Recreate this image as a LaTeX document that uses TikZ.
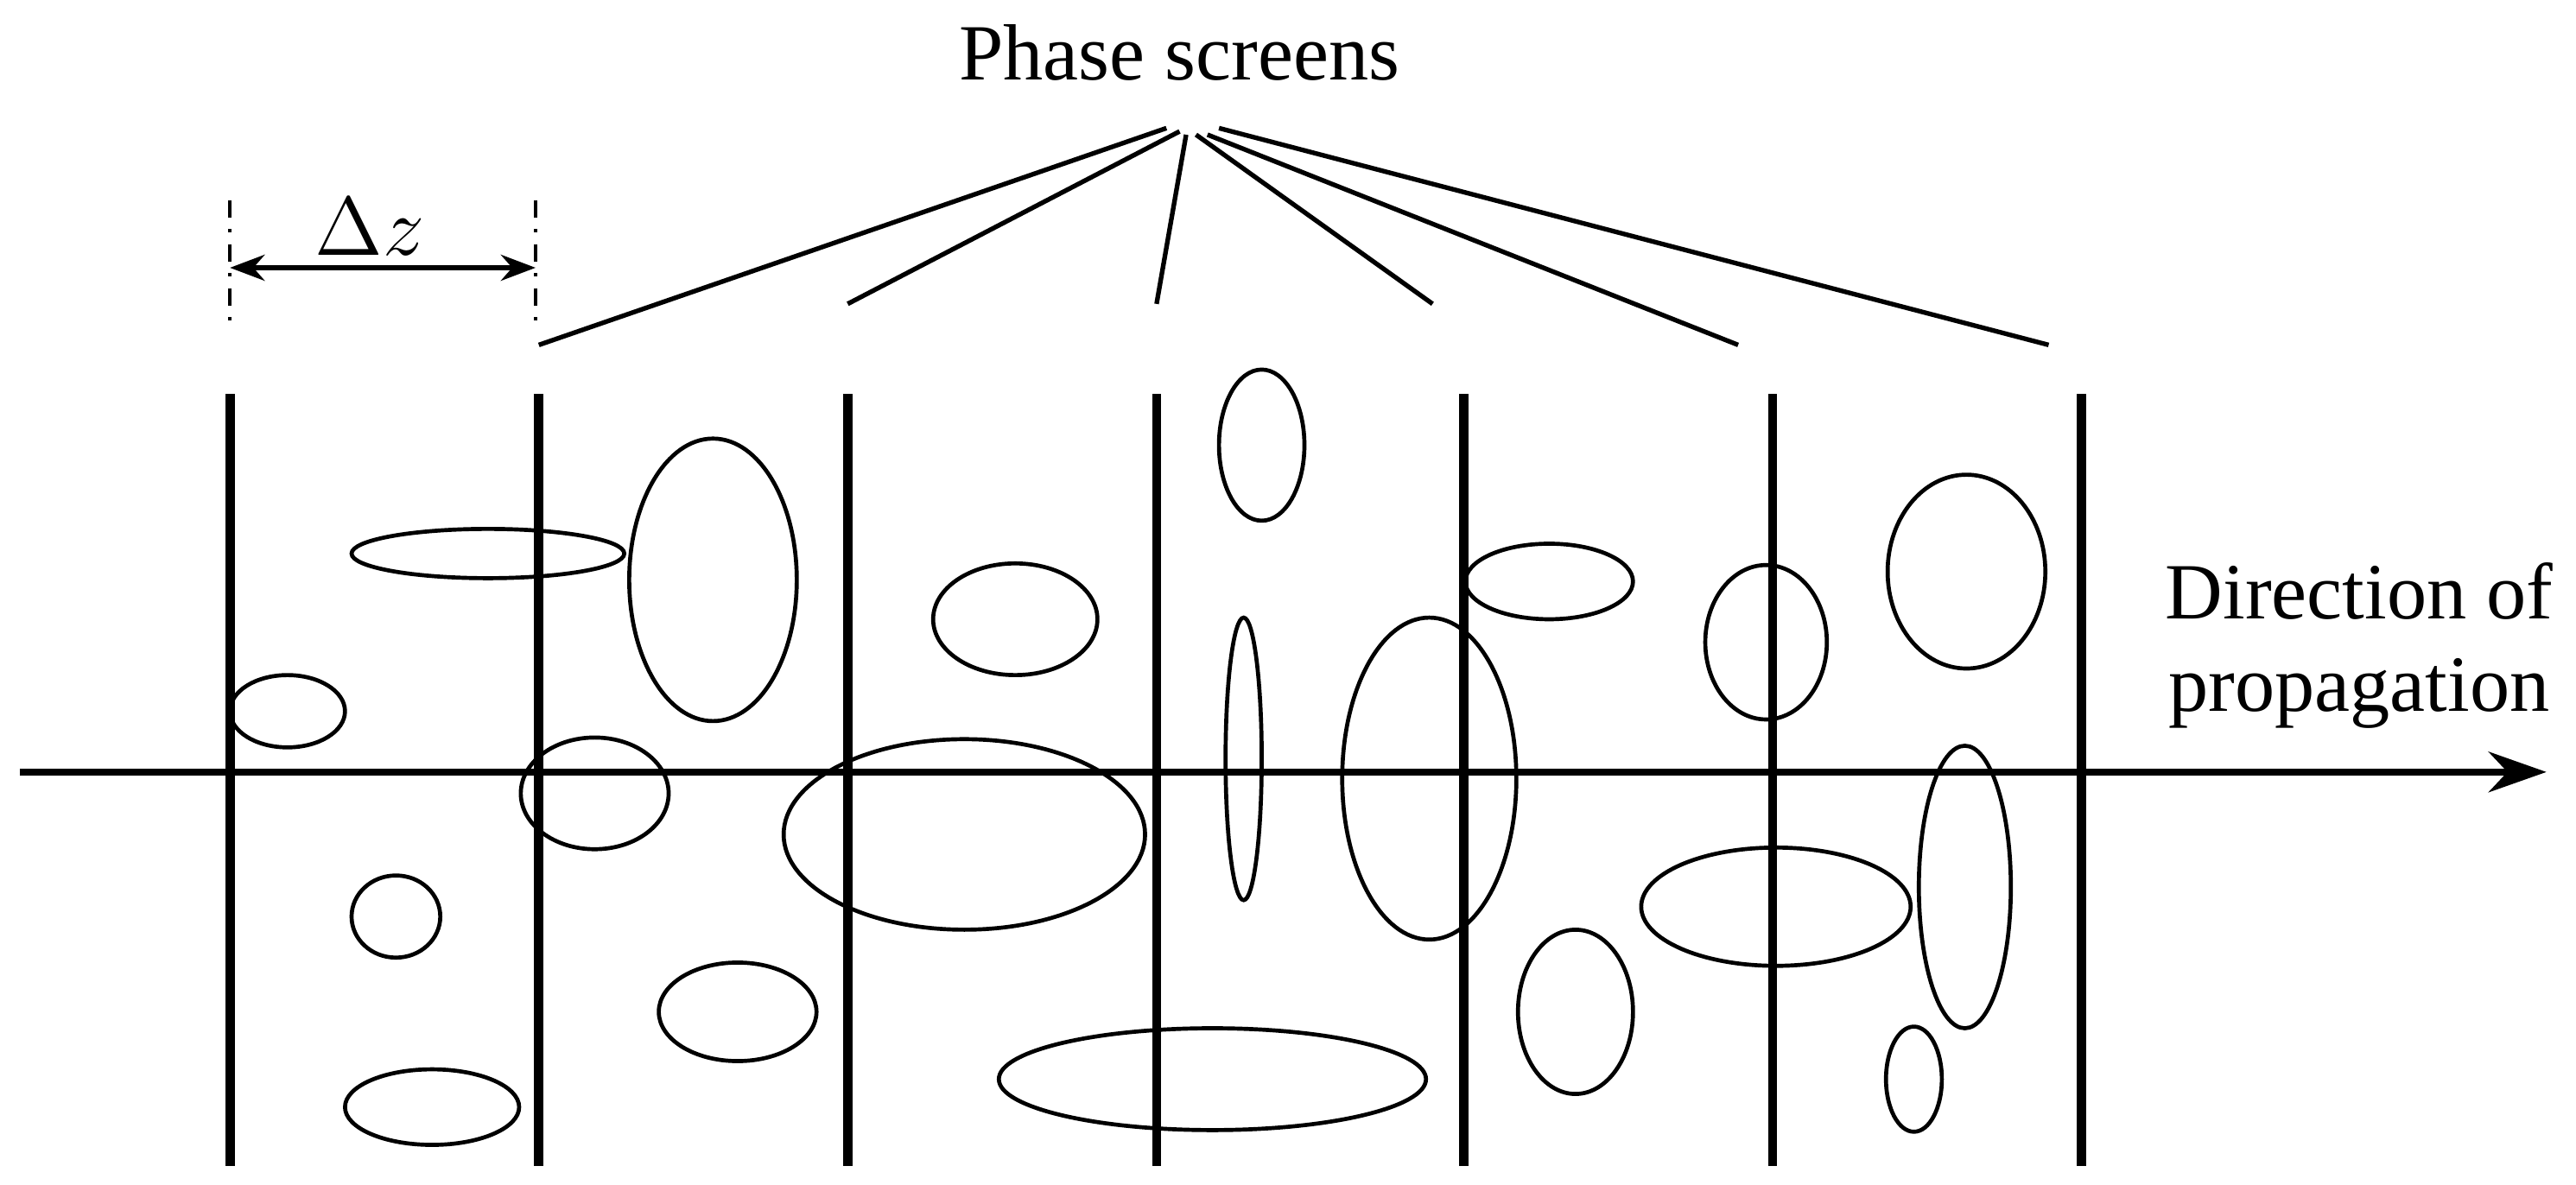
\documentclass[tikz,border=0pt]{standalone}
\usepackage{fontspec}
\setmainfont{Liberation Serif}
\usetikzlibrary{arrows.meta}
\begin{document}
\begin{tikzpicture}[x=0.01cm,y=-0.01cm,
  screen/.style={line width=1.6pt},
  blob/.style={line width=0.7pt},
  lbl/.style={font=\fontsize{13.8}{16}\selectfont}]
\useasboundingbox (0,0) rectangle (1568,721);
\foreach \x [count=\i] in {140,328,516,704,891,1079,1267}{
  \draw[screen] (\x,240) -- (\x,710);
  \coordinate (s\i) at (\x,240);
}
\coordinate (a0) at (12,470); \coordinate (a1) at (1550,470);
\draw[line width=1.2pt,-{Stealth[length=10pt,width=7pt]}] (a0) -- (a1);
\foreach \cx/\cy/\rx/\ry in {297/337/83/15,434/353/51/86,175/433/35/22,362/483/45/34,241/558/27/25,449/616/48/30,263/674/53/23,618/377/50/34,587/508/110/58,768/271/26/46,757/462/11/86,870/474/53/98,738/657/130/31,943/354/51/23,1075/391/37/47,1197/348/48/59,959/616/35/50,1081/552/82/36,1196/540/28/86,1165/657/17/32}
  \draw[blob] (\cx,\cy) ellipse [x radius=\rx, y radius=\ry];
\node[lbl] (ps) at (718,32) {Phase screens};
\foreach \hx/\hy/\tx/\ty in {710/78/328/210,718/80/516/185,722/82/704/185,728/82/872/185,735/82/1058/210,742/78/1247/210}
  \draw[line width=0.8pt] (\hx,\hy) -- (\tx,\ty);
\draw[line width=0.6pt,dash dot] (140,122) -- (140,200);
\draw[line width=0.6pt,dash dot] (326,122) -- (326,200);
\coordinate (e1) at (140,163); \coordinate (e2) at (326,163);
\draw[line width=0.8pt,{Stealth[length=6pt]}-{Stealth[length=6pt]}] (e1) -- (e2);
\node[lbl] (dz) at (225,138) {$\Delta z$};
\node[lbl,align=center] (dir) at (1436,393) {Direction of\\propagation};
\end{tikzpicture}
\end{document}
